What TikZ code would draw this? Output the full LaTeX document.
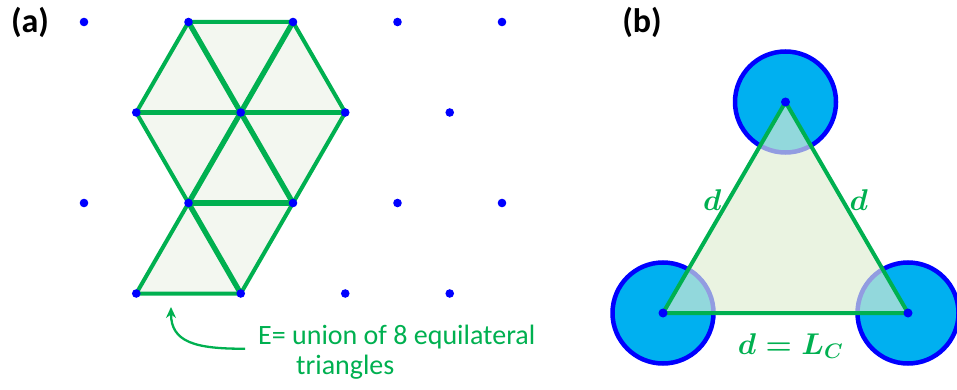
\RequirePackage{fix-cm}
\documentclass[tikz,border=0pt]{standalone}
\usepackage{amsmath}
\usepackage{fontspec}
\setmainfont{Carlito}
\usetikzlibrary{arrows.meta}
\definecolor{olgreen}{RGB}{0,176,80}
\definecolor{olblue}{RGB}{0,0,255}
\definecolor{olcyan}{RGB}{0,176,240}
\definecolor{tilefill}{RGB}{243,247,240}
\definecolor{trifill}{RGB}{223,237,210}

\begin{document}
\begin{tikzpicture}[x=1pt,y=-1pt,
  dot/.style={fill=olblue},
  outer/.style={draw=olgreen,line width=4pt,line join=round,line cap=round},
  inner/.style={draw=olgreen,line width=5.3pt,line cap=round},
  tag/.style={inner sep=0pt,font=\bfseries\fontsize{34}{40}\selectfont},
  note/.style={anchor=base west,inner sep=0pt,text=olgreen,font=\fontsize{28}{34}\selectfont},
  dlabel/.style={text=olgreen,inner sep=0pt,font=\boldmath\fontsize{30}{36}\selectfont}]
\path[use as bounding box] (0,0) rectangle (957,390);
\node[tag] (taga) at (30,22) {(a)};
\node[tag] (tagb) at (642,22) {(b)};
\foreach \r/\nk/\s in {0/4/0,1/3/52.25,2/4/0,3/3/52.25}
  \foreach \k in {0,...,\nk}
    \coordinate (p\r\k) at ({84+104.5*\k+\s},{22+90.5*\r});
\fill[tilefill] (p01) -- (p02) -- (p12) -- (p22) -- (p31) -- (p30) -- (p21) -- (p10) -- cycle;
\draw[outer] (p01) -- (p02) -- (p12) -- (p22) -- (p31) -- (p30) -- (p21) -- (p10) -- cycle;
\foreach \a/\b in {01/11,02/11,10/11,11/12,11/21,11/22,21/22,21/31}
  \draw[inner] (p\a) -- (p\b);
\foreach \r/\nk in {0/4,1/3,2/4,3/3}
  \foreach \k in {0,...,\nk}
    \fill[dot] (p\r\k) circle (4.3);
\node[note] (noteA) at (258,344) {E= union of 8 equilateral};
\node[note] (noteB) at (296,374) {triangles};
\coordinate (tip) at (171,307);
\draw[olgreen,line width=2.3pt,-{Stealth[length=11pt,width=10pt]}] ([xshift=-13pt]noteA.south west) .. controls (195,349) and (171,342) .. (tip);
\coordinate (cA) at (785.5,102);
\coordinate (cB) at (663,313);
\coordinate (cC) at (908,313);
\foreach \c in {cA,cB,cC}
  \draw[olblue,line width=4.5pt,fill=olcyan] (\c) circle (50.5);
\fill[trifill,fill opacity=0.66] (cA) -- (cB) -- (cC) -- cycle;
\draw[olgreen,line width=4pt,line join=round] (cA) -- (cB) -- (cC) -- cycle;
\foreach \c in {cA,cB,cC}
  \fill[dot] (\c) circle (4.5);
\path (cA) -- (cB) node[dlabel,midway,xshift=-12pt,yshift=7pt] (dLeft) {$d$};
\path (cA) -- (cC) node[dlabel,midway,xshift=12pt,yshift=7pt] (dRight) {$d$};
\path (cB) -- (cC) node[dlabel,midway,xshift=5pt,yshift=-33pt] (dBottom) {$d = L_C$};
\end{tikzpicture}
\end{document}
